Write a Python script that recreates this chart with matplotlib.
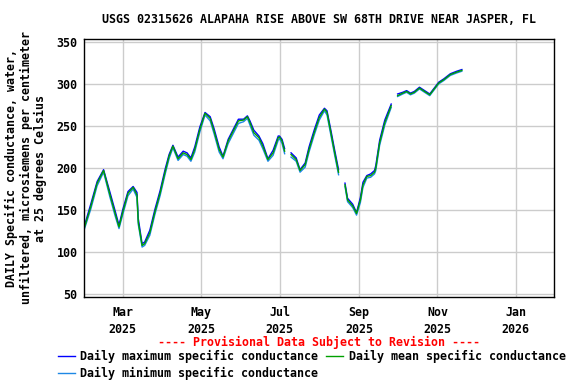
import numpy as np
import pandas as pd
import matplotlib
matplotlib.use("Agg")
import matplotlib.pyplot as plt
import matplotlib.dates as mdates

# ==================================================
TITLE = "USGS 02315626 ALAPAHA RISE ABOVE SW 68TH DRIVE NEAR JASPER, FL"
YLABEL = ("DAILY Specific conductance, water,\n"
          "unfiltered, microsiemens per centimeter\n"
          "at 25 degrees Celsius")
AVISO = "---- Provisional Data Subject to Revision ----"
NOMBRES = ["Daily maximum specific conductance",
           "Daily minimum specific conductance",
           "Daily mean specific conductance"]
COLORES = ["#0000ff", "#1e88e5", "#00a000"]
FUENTE = "DejaVu Sans Mono"
FS = 8.4
# =================================================================

fechas = [
    "2025-01-30", "2025-02-04", "2025-02-09", "2025-02-14", "2025-02-19", "2025-02-23", "2025-02-26",
    "2025-03-01", "2025-03-05", "2025-03-09", "2025-03-12", "2025-03-13", "2025-03-16", "2025-03-18",
    "2025-03-22", "2025-03-26", "2025-03-30",
    "2025-04-03", "2025-04-06", "2025-04-09", "2025-04-13", "2025-04-17", "2025-04-20", "2025-04-23",
    "2025-04-26", "2025-04-30",
    "2025-05-04", "2025-05-08", "2025-05-11", "2025-05-15", "2025-05-18", "2025-05-22", "2025-05-26",
    "2025-05-30",
    "2025-06-03", "2025-06-06", "2025-06-08", "2025-06-11", "2025-06-15", "2025-06-18", "2025-06-22",
    "2025-06-26", "2025-06-30",
    "2025-07-01", "2025-07-03", "2025-07-05", "2025-07-07",
    "2025-07-10", "2025-07-14", "2025-07-17", "2025-07-21", "2025-07-24", "2025-07-28",
    "2025-08-01", "2025-08-05", "2025-08-07", "2025-08-10", "2025-08-13", "2025-08-16", "2025-08-18",
    "2025-08-21", "2025-08-23", "2025-08-27", "2025-08-30",
    "2025-09-02", "2025-09-04", "2025-09-07", "2025-09-10", "2025-09-13", "2025-09-14", "2025-09-17",
    "2025-09-21", "2025-09-26", "2025-09-28",
    "2025-10-01", "2025-10-05", "2025-10-08", "2025-10-11", "2025-10-14", "2025-10-18", "2025-10-21",
    "2025-10-26", "2025-10-30",
    "2025-11-02", "2025-11-06", "2025-11-11", "2025-11-16", "2025-11-20",
]
nan = np.nan
media = [
    129, 154, 182, 197, 168, 146, 130,
    148, 170, 177, 168, 136, 108, 110,
    123, 148, 170,
    196, 214, 226, 211, 218, 216, 210,
    222, 246,
    265, 259, 244, 222, 213, 232, 244,
    256,
    257, 261, 254, 242, 236, 226, 210,
    218, 236,
    237, 232, 220, nan,
    216, 210, 197, 204, 222, 242,
    260, 270, 266, 242, 218, 195, nan,
    180, 162, 155, 146,
    162, 180, 190, 191, 195, 200, 230,
    254, 274, nan,
    286, 289, 291, 288, 290, 295, 292,
    287, 295,
    301, 305, 311, 314, 316,
]
maximo = [
    131, 157, 184, 198, 171, 149, 132,
    151, 172, 178, 171, 140, 110, 112,
    126, 151, 173,
    199, 216, 227, 213, 220, 218, 212,
    225, 249,
    266, 261, 247, 225, 214, 234, 246,
    258,
    258, 262, 256, 245, 238, 229, 211,
    221, 238,
    238, 234, 223, nan,
    218, 212, 198, 206, 225, 245,
    263, 271, 268, 245, 221, 198, nan,
    182, 164, 157, 147,
    165, 183, 191, 193, 197, 203, 233,
    257, 276, nan,
    288, 290, 292, 289, 291, 296, 293,
    288, 296,
    302, 306, 312, 315, 317,
]
minimo = [
    127, 151, 179, 195, 165, 143, 128,
    145, 167, 175, 165, 133, 106, 108,
    120, 145, 167,
    193, 211, 224, 209, 216, 214, 208,
    219, 243,
    263, 256, 241, 219, 211, 229, 241,
    253,
    255, 259, 251, 239, 233, 223, 208,
    215, 233,
    235, 229, 217, nan,
    213, 208, 195, 201, 219, 239,
    257, 268, 263, 239, 215, 192, nan,
    178, 160, 153, 144,
    159, 177, 188, 189, 193, 197, 227,
    251, 272, nan,
    285, 288, 290, 287, 289, 294, 291,
    286, 294,
    300, 304, 310, 313, 315,
]

x = pd.to_datetime(fechas)

plt.rcParams["font.family"] = [FUENTE, "DejaVu Sans"]
plt.rcParams["font.weight"] = "bold"
plt.rcParams["font.size"] = FS

fig = plt.figure(figsize=(5.76, 3.84), dpi=100)
ax = fig.add_axes([0.1464, 0.2273, 0.8159, 0.6704])

lineas = []
for serie, c in zip([maximo, minimo, media], COLORES):
    l, = ax.plot(x, serie, color=c, lw=1.0)
    lineas.append(l)

ax.set_xlim(pd.Timestamp("2025-01-30"), pd.Timestamp("2026-01-31"))
ax.set_ylim(47, 353)
ax.set_yticks(range(50, 351, 50))
ax.xaxis.set_major_locator(mdates.MonthLocator(bymonth=[1, 3, 5, 7, 9, 11]))
ax.xaxis.set_major_formatter(mdates.DateFormatter("%b\n%Y"))
ax.tick_params(axis="y", length=0, pad=5, labelsize=FS)
ax.tick_params(axis="x", length=0, pad=7, labelsize=FS)
for t in ax.get_xticklabels():
    t.set_linespacing(1.35)
ax.grid(True, color="#cccccc", lw=1)
ax.set_axisbelow(True)
for s in ax.spines.values():
    s.set_linewidth(1)
ax.set_title(TITLE, fontsize=FS, fontweight="bold", pad=12)
ax.set_ylabel(YLABEL, fontsize=FS, fontweight="bold", linespacing=1.1, labelpad=7)

fig.text(0.553, 1 - 342 / 384, AVISO, color="red", ha="center", va="center",
         fontsize=FS, fontweight="bold")
fig.legend(lineas, NOMBRES, ncol=2, loc="upper left", bbox_to_anchor=(0.100, 1 - 350 / 384),
           frameon=False, handlelength=1.45, handletextpad=0.47, columnspacing=0.7,
           labelspacing=0.35, borderaxespad=0, borderpad=0, fontsize=FS)

fig.savefig("out.png", dpi=100)
